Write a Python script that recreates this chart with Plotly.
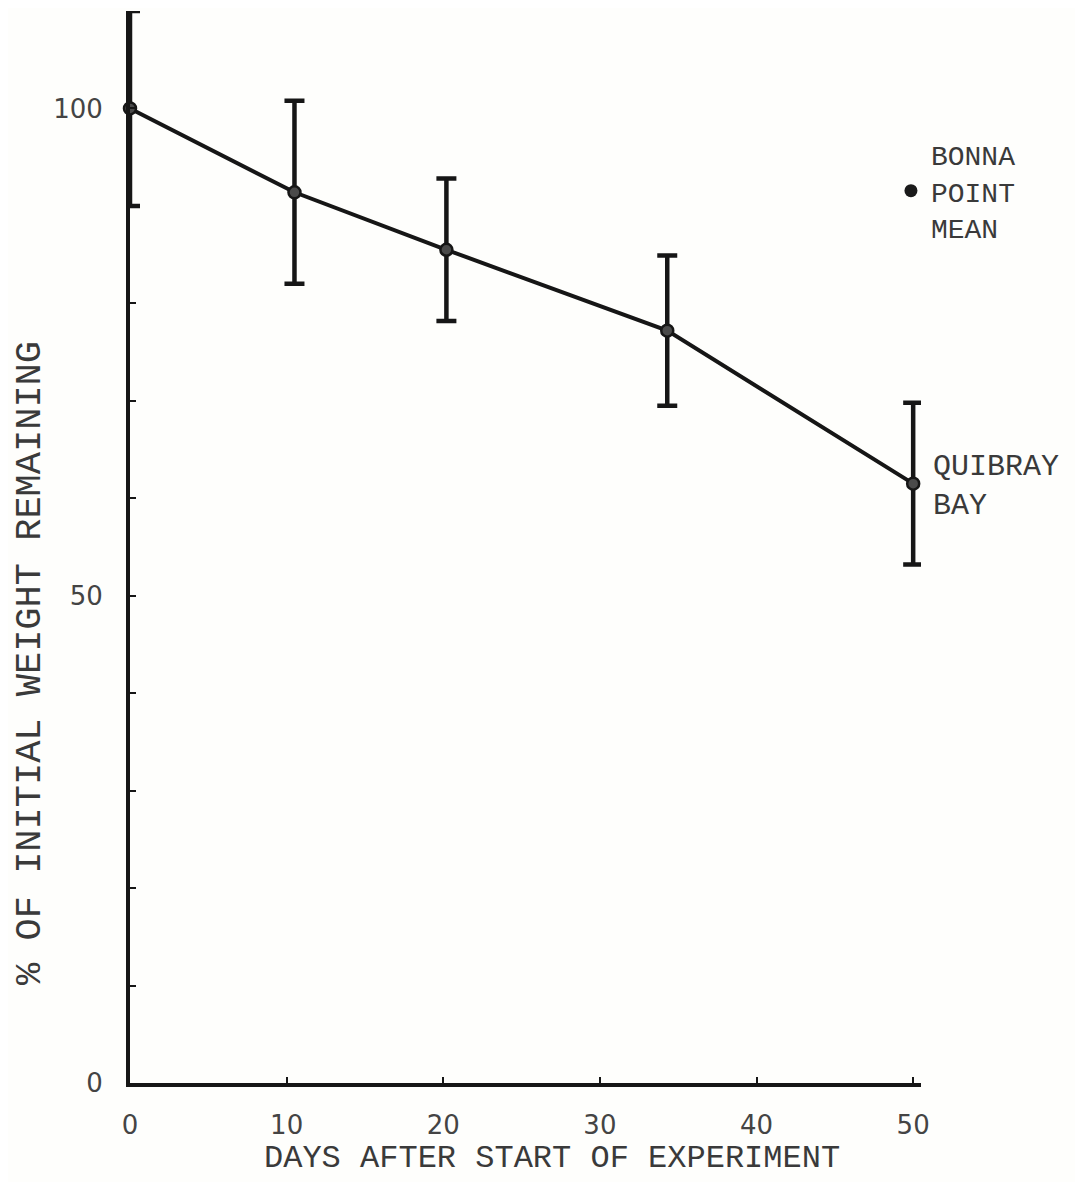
import plotly.graph_objects as go

# Data
days = [0, 10.5, 20.2, 34.3, 50]
pct_remaining = [100, 91.4, 85.5, 77.2, 61.5]
error = [10, 9.4, 7.3, 7.7, 8.3]

x_ticks = [0, 10, 20, 30, 40, 50]
y_ticks = [0, 50, 100]

INK = "#161616"
TYPE_FONT = "Liberation Mono"
NUM_FONT = "DejaVu Sans"

fig = go.Figure()

fig.add_trace(go.Scatter(
    x=days, y=pct_remaining,
    mode="lines+markers",
    line=dict(color=INK, width=4),
    marker=dict(size=12, color="#4a4a4a", line=dict(color=INK, width=2.5)),
    error_y=dict(type="data", array=error, visible=True,
                 color=INK, thickness=4.5, width=10),
    cliponaxis=False,
    showlegend=False,
))

# legend-only marker for the "BONNA POINT MEAN" key
fig.add_trace(go.Scatter(
    x=[None], y=[None], mode="markers",
    marker=dict(size=13, color="#1a1a1a"),
    name="BONNA<br>POINT<br>MEAN",
    showlegend=True,
))

fig.add_annotation(
    x=days[-1], y=pct_remaining[-1], xref="x", yref="y",
    text="QUIBRAY<br>BAY", showarrow=False,
    xanchor="left", yanchor="middle", align="left",
    xshift=18, yshift=-3,
    font=dict(family=TYPE_FONT, size=30, color="#3a3a3a"),
)

fig.add_annotation(
    x=-0.1257, y=0.3915, xref="paper", yref="paper",
    text="% OF INITIAL WEIGHT REMAINING", showarrow=False,
    textangle=-90, xanchor="center", yanchor="middle",
    font=dict(family=TYPE_FONT, size=37, color="#3a3a3a"),
)

fig.add_annotation(
    x=0.534, y=-0.07, xref="paper", yref="paper",
    text="DAYS AFTER START OF EXPERIMENT", showarrow=False,
    xanchor="center", yanchor="middle",
    font=dict(family=TYPE_FONT, size=32, color="#3a3a3a"),
)

fig.update_layout(
    width=1083, height=1182,
    margin=dict(l=122, r=170, t=3, b=107),
    paper_bgcolor="#fefefc", plot_bgcolor="#fefefc",
    showlegend=True,
    legend=dict(
        x=0.962, y=0.832, xref="paper", yref="paper",
        xanchor="left", yanchor="middle",
        bgcolor="rgba(0,0,0,0)", borderwidth=0,
        font=dict(family=TYPE_FONT, size=28, color="#3a3a3a"),
        valign="middle", itemwidth=30,
    ),
    xaxis=dict(
        range=[0, 50.5], showgrid=False, zeroline=False,
        showline=True, linecolor=INK, linewidth=4,
        tickvals=x_ticks, ticktext=[str(v) for v in x_ticks],
        ticks="inside", ticklen=6, tickwidth=2, tickcolor=INK,
        ticklabelstandoff=16,
        tickfont=dict(family=NUM_FONT, size=26, color="#444"),
    ),
    yaxis=dict(
        range=[0, 110], showgrid=False, zeroline=False,
        showline=True, linecolor=INK, linewidth=4,
        tickvals=y_ticks, ticktext=[str(v) for v in y_ticks],
        ticks="inside", ticklen=6, tickwidth=2, tickcolor=INK,
        minor=dict(dtick=10, ticks="inside", ticklen=6, tickwidth=2, tickcolor=INK),
        ticklabelstandoff=18,
        tickfont=dict(family=NUM_FONT, size=26, color="#444"),
    ),
)

fig.write_html("out.html")
